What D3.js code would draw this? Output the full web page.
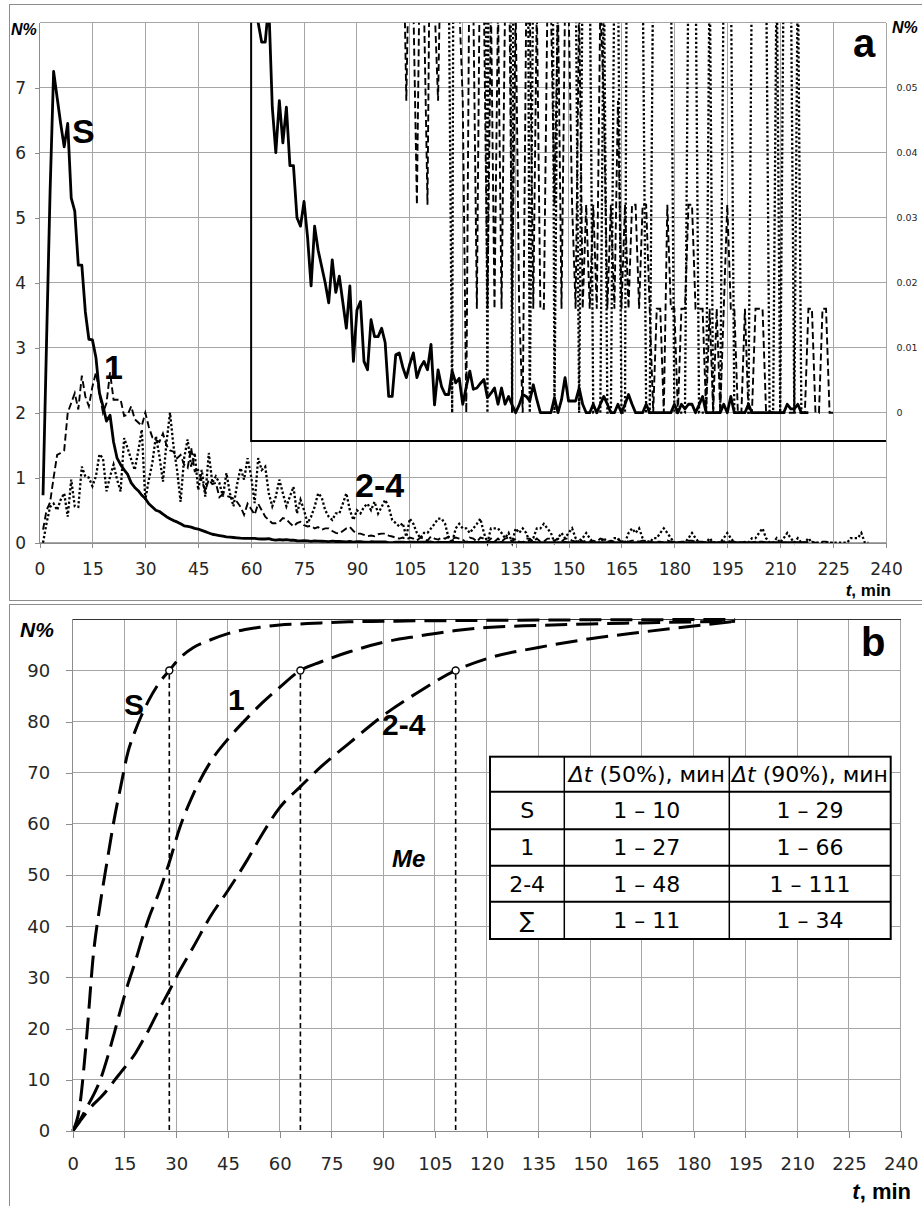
<!DOCTYPE html>
<html>
<head>
<meta charset="utf-8">
<script src="https://cdn.jsdelivr.net/npm/d3@7"></script>
<style>
body { margin: 0; background: #fff; }
svg { display: block; font-family: "DejaVu Sans", sans-serif; }
</style>
</head>
<body>
<svg id="chart" width="922" height="1206"></svg>
<script>
// ---------- data, panel a (N% per minute, first value is t = 1 min) ----------
var seriesS = [
  0.73, 3.1, 5.4, 7.25, 6.85, 6.45, 6.09, 6.45, 5.3, 5.1,
  4.27, 4.27, 3.55, 3.13, 3.12, 2.85, 2.3, 2.1, 1.87, 1.96,
  1.55, 1.3, 1.2, 1.12, 1.05, 0.92, 0.85, 0.8, 0.73, 0.68,
  0.6, 0.55, 0.5, 0.48, 0.44, 0.4, 0.37, 0.34, 0.32, 0.29,
  0.26, 0.25, 0.24, 0.22, 0.21, 0.19, 0.17, 0.15, 0.13, 0.12,
  0.11, 0.1, 0.09, 0.085, 0.08, 0.075, 0.07, 0.068, 0.066, 0.065,
  0.066, 0.06, 0.057, 0.057, 0.063, 0.047, 0.04, 0.048, 0.0415, 0.047,
  0.038, 0.038, 0.03, 0.0287, 0.0325, 0.027, 0.0195, 0.0287, 0.025, 0.0225,
  0.02, 0.0169, 0.0235, 0.0185, 0.021, 0.017, 0.013, 0.0195, 0.0079, 0.0158,
  0.0171, 0.0079, 0.0066, 0.0143, 0.0117, 0.0117, 0.013, 0.0108, 0.0025, 0.0025,
  0.0089, 0.0092, 0.007, 0.0054, 0.0075, 0.0092, 0.0054, 0.007, 0.0079, 0.0066,
  0.0105, 0.0012, 0.0066, 0.004, 0.0028, 0.0028, 0.0064, 0.0046, 0.0053, 0.0013,
  0.004, 0.0064, 0.0036, 0.0038, 0.0045, 0.0051, 0.0023, 0.003, 0.0038, 0.0013,
  0.0038, 0.0013, 0.0025, 0.0012, 0, 0.0012, 0.0028, 0.0025, 0.0018, 0.0043,
  0.002, 0, 0, 0, 0, 0.0023, 0, 0.002, 0.0054, 0.0018,
  0.0018, 0.0018, 0.0038, 0.0013, 0, 0, 0.0013, 0, 0.0013, 0.0025,
  0.0013, 0, 0, 0.0013, 0, 0.0013, 0.0028, 0.0013, 0, 0,
  0, 0.0013, 0, 0, 0, 0, 0, 0, 0, 0.0013,
  0, 0.0013, 0.0006, 0.0013, 0.0013, 0, 0.0012, 0.0025, 0, 0,
  0, 0, 0, 0.0013, 0, 0.0025, 0, 0, 0, 0,
  0.0013, 0, 0, 0, 0, 0, 0, 0, 0, 0,
  0, 0.0013, 0.0006, 0.0006, 0.0013, 0, 0, 0
];
var series1 = [
  0.2, 0.5, 0.62, 1.0, 1.35, 1.38, 1.42, 2.0, 2.15, 2.3,
  2.05, 2.57, 2.25, 2.1, 2.4, 2.62, 2.3, 2.0, 2.15, 2.62,
  2.2, 2.2, 2.2, 1.95, 1.97, 2.1, 1.9, 1.85, 1.8, 2.0,
  1.78, 1.62, 1.58, 1.55, 1.68, 1.5, 1.42, 1.4, 1.3, 1.35,
  1.2, 1.15, 1.46, 1.1, 1.12, 0.95, 0.8, 0.97, 0.9, 0.92,
  0.7, 0.75, 0.72, 0.7, 0.68, 0.63, 0.55, 0.43, 0.6, 0.52,
  0.43, 0.6, 0.5, 0.4, 0.35, 0.3, 0.3, 0.32, 0.38, 0.36,
  0.3, 0.25, 0.3, 0.32, 0.27, 0.25, 0.26, 0.22, 0.24, 0.2,
  0.22, 0.22, 0.18, 0.15, 0.14, 0.18, 0.22, 0.24, 0.18, 0.14,
  0.14, 0.12, 0.1, 0.11, 0.1, 0.13, 0.14, 0.14, 0.11, 0.095,
  0.079, 0.063, 0.079, 0.048, 0.079, 0.063, 0.032, 0.079, 0.063, 0.032,
  0.095, 0.063, 0.048, 0.079, 0.063, 0.095, 0.063, 0.079, 0.063, 0.048,
  0, 0.079, 0.063, 0.016, 0.079, 0.063, 0.016, 0.063, 0.016, 0.063,
  0.016, 0.063, 0.079, 0.016, 0.063, 0.016, 0, 0.063, 0.063, 0.016,
  0.063, 0.016, 0.016, 0.063, 0.063, 0.032, 0.063, 0.016, 0.063, 0.063,
  0.032, 0.016, 0.063, 0.016, 0.032, 0.016, 0.032, 0.016, 0.063, 0.048,
  0.016, 0.032, 0.016, 0.048, 0.016, 0.032, 0.016, 0.032, 0.032, 0.016,
  0.032, 0.032, 0.016, 0, 0.016, 0.016, 0, 0.032, 0.016, 0.016,
  0, 0.016, 0.016, 0.032, 0.032, 0.016, 0.016, 0.016, 0, 0.016,
  0, 0.016, 0, 0.016, 0.032, 0.016, 0.016, 0, 0, 0.016,
  0, 0, 0.016, 0.016, 0.016, 0, 0, 0, 0, 0,
  0, 0, 0, 0, 0, 0, 0, 0.016, 0.016, 0,
  0, 0.016, 0.016, 0, 0
];
var series24 = [
  0, 0.3, 0.55, 0.6, 0.5, 0.66, 0.76, 0.4, 0.97, 0.56,
  0.55, 1.17, 1.02, 1.0, 0.87, 1.02, 1.36, 1.3, 0.79, 1.02,
  1.2, 0.97, 0.79, 1.61, 1.45, 1.28, 1.12, 1.41, 1.74, 0.66,
  0.97, 1.23, 1.64, 1.33, 0.94, 1.54, 2.0, 1.48, 1.12, 0.63,
  1.3, 1.59, 1.17, 1.38, 0.81, 1.12, 0.71, 1.38, 0.92, 1.02,
  0.92, 0.71, 1.07, 0.76, 0.56, 0.89, 1.15, 0.97, 1.3, 1.02,
  0.61, 1.3, 1.12, 1.17, 0.76, 0.56, 0.71, 0.97, 0.76, 0.56,
  0.71, 0.86, 0.45, 0.66, 0.5, 0.3, 0.4, 0.55, 0.76, 0.7,
  0.5, 0.4, 0.35, 0.45, 0.45, 0.6, 0.76, 0.5, 0.35, 0.5,
  0.45, 0.55, 0.6, 0.5, 0.63, 0.45, 0.55, 0.66, 0.55, 0.35,
  0.3, 0.25, 0.3, 0.09, 0.37, 0.29, 0.15, 0.07, 0.15, 0.15,
  0.22, 0.29, 0.37, 0.37, 0.29, 0.07, 0, 0.22, 0.29, 0.22,
  0.22, 0.15, 0.22, 0.29, 0.37, 0.15, 0, 0.22, 0.22, 0.22,
  0.15, 0.07, 0.15, 0, 0.22, 0.15, 0.22, 0.15, 0, 0.07,
  0.22, 0.22, 0.29, 0.22, 0.15, 0, 0.07, 0.15, 0.07, 0.15,
  0.22, 0.07, 0, 0.07, 0.15, 0.07, 0, 0, 0, 0.07,
  0, 0, 0.07, 0.07, 0, 0, 0.15, 0.22, 0.15, 0.22,
  0.07, 0, 0, 0.07, 0.07, 0.15, 0.22, 0.15, 0.07, 0,
  0, 0, 0, 0.07, 0.15, 0.07, 0, 0, 0, 0.07,
  0, 0, 0, 0.07, 0.15, 0.07, 0, 0, 0, 0,
  0, 0.07, 0.07, 0.15, 0.22, 0.07, 0, 0, 0.07, 0,
  0.07, 0.15, 0.07, 0, 0.07, 0, 0, 0.07, 0, 0,
  0, 0, 0, 0, 0, 0, 0, 0, 0, 0.07,
  0.07, 0.07, 0.15, 0, 0
];
var inset24Last = 216;   // the magnified 2-4 curve stops here

var tickMin = [0, 15, 30, 45, 60, 75, 90, 105, 120, 135, 150, 165, 180, 195, 210, 225, 240];
var ticksA = [0, 1, 2, 3, 4, 5, 6, 7];
var ticksInset = [0, 0.01, 0.02, 0.03, 0.04, 0.05];

// ---------- data, panel b (cumulative N%) ----------
var tB = [0, 2, 4, 6, 8, 10, 12, 14, 16, 18, 20, 22, 25, 28, 31, 35, 40, 45, 50, 55,
  60, 66, 72, 80, 90, 100, 111, 120, 135, 150, 165, 180, 192];
var cumS = [0, 4.7, 18, 34.5, 44.5, 52.8, 60.8, 67.6, 74, 78, 81.3, 84.1, 87.5, 90, 92.4, 94.5, 96, 97.2, 98, 98.5,
  98.9, 99.1, 99.3, 99.5, 99.6, 99.7, 99.75, 99.8, 99.85, 99.9, 99.92, 99.95, 99.97];
var cum1 = [0, 2, 4.5, 7, 10, 14.2, 19, 24, 28.7, 32.8, 37.3, 41.5, 46.6, 52.5, 59.2, 65.9, 72.2, 76.6, 80.3, 83.7,
  86.7, 90, 91.7, 93.6, 95.5, 96.7, 97.8, 98.4, 98.8, 99.1, 99.3, 99.5, 99.6];
var cum24 = [0, 1.8, 3.6, 5.2, 6.5, 8, 9.8, 11.5, 13.2, 15, 17.3, 19.7, 23.7, 27.4, 31.3, 36, 42, 47, 52.3, 58.1,
  63.2, 67.3, 71.2, 75.7, 81.2, 85.7, 90, 92.3, 94.5, 96.2, 97.5, 98.7, 99.6];
var t90 = [28, 66, 111];
var ticksB = [0, 10, 20, 30, 40, 50, 60, 70, 80, 90];

var tableHead = ["\u0394t (50%), \u043c\u0438\u043d", "\u0394t (90%), \u043c\u0438\u043d"];
var tableRows = ["S", "1", "2-4", "\u2211"];
var col50 = ["1 \u2013 10", "1 \u2013 27", "1 \u2013 48", "1 \u2013 11"];
var col90 = ["1 \u2013 29", "1 \u2013 66", "1 \u2013 111", "1 \u2013 34"];

// ---------- drawing ----------
var svg = d3.select("#chart");
var gridCol = "#a6a6a6";
var axisCol = "#8c8c8c";
var txtCol = "#262626";
var bold = "Liberation Sans, Arial, sans-serif";

// panel frames
svg.append("rect").attr("x", 9.5).attr("y", 4.5).attr("width", 920).attr("height", 596)
  .attr("fill", "none").attr("stroke", axisCol);
svg.append("rect").attr("x", 9.5).attr("y", 604.5).attr("width", 920).attr("height", 620)
  .attr("fill", "none").attr("stroke", axisCol);

function drawGrid(g, x, y, xt, yt) {
  g.append("g").selectAll("line").data(xt).join("line")
    .attr("x1", d => x(d)).attr("x2", d => x(d))
    .attr("y1", y.range()[0]).attr("y2", y.range()[1])
    .attr("stroke", gridCol).attr("shape-rendering", "crispEdges");
  g.append("g").selectAll("line").data(yt).join("line")
    .attr("y1", d => y(d)).attr("y2", d => y(d))
    .attr("x1", x.range()[0]).attr("x2", x.range()[1])
    .attr("stroke", gridCol).attr("shape-rendering", "crispEdges");
}

function styleAxis(a, size) {
  a.attr("font-family", "DejaVu Sans, sans-serif").attr("font-size", size);
  a.select(".domain").attr("stroke", axisCol).attr("shape-rendering", "crispEdges");
  a.selectAll(".tick line").attr("stroke", axisCol).attr("shape-rendering", "crispEdges");
  a.selectAll(".tick text").attr("fill", txtCol);
}

// line styles for the three groups
function dotted(p) { return p.attr("fill", "none").attr("stroke", "#000").attr("stroke-width", 2.3).attr("stroke-dasharray", "2.3,2.2"); }
function dashed(p) { return p.attr("fill", "none").attr("stroke", "#000").attr("stroke-width", 1.9).attr("stroke-dasharray", "7,3.5"); }
function solid(p) { return p.attr("fill", "none").attr("stroke", "#000").attr("stroke-width", 2.8).attr("stroke-linejoin", "round"); }

// ===== panel a =====
var xA = d3.scaleLinear().domain([0, 240]).range([39.5, 886]);
var yA = d3.scaleLinear().domain([0, 8]).range([542.7, 22.7]);
var yIn = d3.scaleLinear().domain([0, 0.06]).range([yA(2), yA(8)]);
var insetBottom = 441;

var pa = svg.append("g");
drawGrid(pa, xA, yA, tickMin, yA.ticks(8));

pa.append("clipPath").attr("id", "clipInset").append("rect")
  .attr("x", xA(60)).attr("y", yA(8))
  .attr("width", xA(240) - xA(60)).attr("height", insetBottom - yA(8));

var lineA = d3.line().x((d, i) => xA(i + 1)).y(d => yA(d));
var lineIn = d3.line().x((d, i) => xA(i + 1)).y(d => yIn(d));

// main curves
pa.append("path").datum(series24).attr("d", lineA).call(dotted);
pa.append("path").datum(series1).attr("d", lineA).call(dashed);
pa.append("path").datum(seriesS).attr("d", lineA).call(solid);

// magnified inset (secondary axis)
var inset = pa.append("g").attr("clip-path", "url(#clipInset)");
inset.append("path").datum(series24.slice(0, inset24Last)).attr("d", lineIn).call(dotted);
inset.append("path").datum(series1).attr("d", lineIn).call(dashed);
inset.append("path").datum(seriesS).attr("d", lineIn).call(solid);

pa.append("path")
  .attr("d", `M${xA(60)},${yA(8)}V${insetBottom}H${xA(240)}`)
  .attr("fill", "none").attr("stroke", "#000").attr("stroke-width", 2);

// axes
var axBA = pa.append("g").attr("transform", `translate(0,${yA(0)})`)
  .call(d3.axisBottom(xA).tickValues(tickMin).tickSize(5).tickSizeOuter(0).tickPadding(15.5));
styleAxis(axBA, 17);
var axLA = pa.append("g").attr("transform", `translate(${xA(0)},0)`)
  .call(d3.axisLeft(yA).tickValues(ticksA).tickSize(5).tickSizeOuter(0).tickPadding(8.5));
styleAxis(axLA, 17);
axLA.select(".domain").attr("d", `M0,${yA(0)}V${yA(8)}`);

// right (inset) axis labels
pa.append("g").selectAll("text").data(ticksInset).join("text")
  .attr("x", 896.5).attr("y", d => yIn(d)).attr("dy", "0.35em")
  .attr("font-size", 9.5).attr("fill", txtCol)
  .text(d => d === 0 ? "0" : d3.format(".2f")(d));

// texts
pa.append("text").attr("x", 11).attr("y", 35).attr("font-family", bold)
  .attr("font-weight", "bold").attr("font-style", "italic").attr("font-size", 16).text("N%");
pa.append("text").attr("x", 892).attr("y", 33).attr("font-family", bold)
  .attr("font-weight", "bold").attr("font-style", "italic").attr("font-size", 16).text("N%");
pa.append("text").attr("x", 891).attr("y", 596).attr("text-anchor", "end")
  .attr("font-family", bold).attr("font-weight", "bold").attr("font-size", 17)
  .call(t => {
    t.append("tspan").attr("font-style", "italic").text("t");
    t.append("tspan").text(", min");
  });
pa.append("text").attr("x", 853).attr("y", 57).attr("font-family", bold)
  .attr("font-weight", "bold").attr("font-size", 40).text("a");
var labA = pa.append("g").attr("font-family", bold).attr("font-weight", "bold").attr("font-size", 34);
labA.append("text").attr("x", 72).attr("y", 143).text("S");
labA.append("text").attr("x", 104).attr("y", 379).text("1");
labA.append("text").attr("x", 355).attr("y", 497).text("2-4");

// ===== panel b =====
var xB = d3.scaleLinear().domain([0, 240]).range([72.7, 900.7]);
var yB = d3.scaleLinear().domain([0, 100]).range([1131, 619.3]);

var pb = svg.append("g");
drawGrid(pb, xB, yB, tickMin, yB.ticks(10));
pb.append("line").attr("x1", xB(0)).attr("x2", xB(240)).attr("y1", yB(100)).attr("y2", yB(100))
  .attr("stroke", "#333").attr("shape-rendering", "crispEdges");

var lineB = d3.line().x((d, i) => xB(tB[i])).y(d => yB(d)).curve(d3.curveMonotoneX);
[cumS, cum1, cum24].forEach(c => {
  pb.append("path").datum(c).attr("d", lineB)
    .attr("fill", "none").attr("stroke", "#000").attr("stroke-width", 3)
    .attr("stroke-dasharray", "22,9");
});

pb.append("g").selectAll("line").data(t90).join("line")
  .attr("x1", d => xB(d)).attr("x2", d => xB(d))
  .attr("y1", yB(90) + 4).attr("y2", yB(0))
  .attr("stroke", "#000").attr("stroke-width", 1.6).attr("stroke-dasharray", "5,3.5");
pb.append("g").selectAll("circle").data(t90).join("circle")
  .attr("cx", d => xB(d)).attr("cy", yB(90)).attr("r", 3.5)
  .attr("fill", "#fff").attr("stroke", "#000").attr("stroke-width", 1.4);

var axBB = pb.append("g").attr("transform", `translate(0,${yB(0)})`)
  .call(d3.axisBottom(xB).tickValues(tickMin).tickSize(7).tickSizeOuter(0).tickPadding(19));
styleAxis(axBB, 18);
var axLB = pb.append("g").attr("transform", `translate(${xB(0)},0)`)
  .call(d3.axisLeft(yB).tickValues(ticksB).tickSize(7).tickSizeOuter(0).tickPadding(15.5));
styleAxis(axLB, 18);
axLB.select(".domain").attr("d", `M0,${yB(0)}V${yB(100)}`);

pb.append("text").attr("x", 20).attr("y", 637).attr("font-family", bold)
  .attr("font-weight", "bold").attr("font-style", "italic").attr("font-size", 21).text("N%");
pb.append("text").attr("x", 911).attr("y", 1199).attr("text-anchor", "end")
  .attr("font-family", bold).attr("font-weight", "bold").attr("font-size", 22)
  .call(t => {
    t.append("tspan").attr("font-style", "italic").text("t");
    t.append("tspan").text(", min");
  });
pb.append("text").attr("x", 861).attr("y", 656).attr("font-family", bold)
  .attr("font-weight", "bold").attr("font-size", 40).text("b");
var labB = pb.append("g").attr("font-family", bold).attr("font-weight", "bold").attr("font-size", 30);
labB.append("text").attr("x", 124).attr("y", 715).text("S");
labB.append("text").attr("x", 228).attr("y", 710).text("1");
labB.append("text").attr("x", 382).attr("y", 735).text("2-4");
pb.append("text").attr("x", 392).attr("y", 867).attr("font-family", bold)
  .attr("font-weight", "bold").attr("font-style", "italic").attr("font-size", 24).text("Me");

// table
var colX = [490, 564.3, 729.3, 890.7];
var rowY = [756.7, 791.7, 829.3, 865.7, 901.7, 939];
var tb = pb.append("g").attr("font-size", 22).attr("fill", "#000");
tb.append("rect").attr("x", colX[0]).attr("y", rowY[0])
  .attr("width", colX[3] - colX[0]).attr("height", rowY[5] - rowY[0])
  .attr("fill", "#fff").attr("stroke", "#000").attr("stroke-width", 2);
colX.slice(1, 3).forEach(x => tb.append("line").attr("x1", x).attr("x2", x)
  .attr("y1", rowY[0]).attr("y2", rowY[5]).attr("stroke", "#000").attr("stroke-width", 1.5));
rowY.slice(1, 5).forEach(y => tb.append("line").attr("y1", y).attr("y2", y)
  .attr("x1", colX[0]).attr("x2", colX[3]).attr("stroke", "#000").attr("stroke-width", 2));

tableHead.forEach((h, j) => {
  var t = tb.append("text").attr("x", (colX[j + 1] + colX[j + 2]) / 2)
    .attr("y", (rowY[0] + rowY[1]) / 2).attr("dy", "0.36em").attr("text-anchor", "middle");
  t.append("tspan").attr("font-style", "italic").text(h.slice(0, 2));
  t.append("tspan").text(h.slice(2));
});
tableRows.forEach((r, i) => {
  var cy = (rowY[i + 1] + rowY[i + 2]) / 2;
  [r, col50[i], col90[i]].forEach((v, j) => {
    tb.append("text").attr("x", (colX[j] + colX[j + 1]) / 2).attr("y", cy)
      .attr("dy", "0.36em").attr("text-anchor", "middle").text(v);
  });
});
</script>
</body>
</html>
